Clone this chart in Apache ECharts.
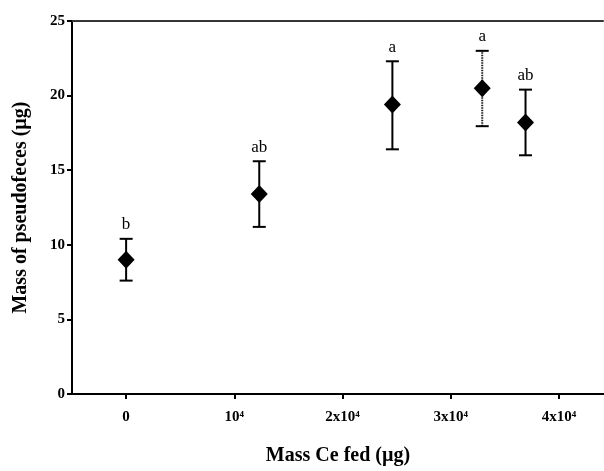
<!DOCTYPE html>
<html>
<head>
<meta charset="utf-8">
<script src="https://cdn.jsdelivr.net/npm/echarts@6/dist/echarts.min.js"></script>
<style>html,body{margin:0;padding:0;background:#fff}#c{width:604px;height:471px}</style>
</head>
<body>
<div id="c"></div>
<script>
var xVals = [0, 12300, 24600, 32900, 36900];
var means = [9.0, 13.4, 19.4, 20.5, 18.2];
var lower = [7.6, 11.2, 16.4, 17.95, 16.0];
var upper = [10.4, 15.6, 22.3, 23.0, 20.4];
var letters = ['b', 'ab', 'a', 'a', 'ab'];
var xTickVals = [0, 10000, 20000, 30000, 40000];
var xTickLabels = ['0', '10\u2074', '2x10\u2074', '3x10\u2074', '4x10\u2074'];
var dottedBar = [false, false, false, true, false];

var FONT = '"Liberation Serif", "DejaVu Serif", serif';
var chart = echarts.init(document.getElementById('c'), null, {renderer: 'canvas'});

var errData = xVals.map(function (x, i) { return [x, lower[i], upper[i], i]; });
var ptData = xVals.map(function (x, i) { return [x, means[i]]; });

chart.setOption({
  animation: false,
  backgroundColor: '#fff',
  grid: {left: 72, right: 0, top: 21, bottom: 72, containLabel: false},
  xAxis: [{
    type: 'value', min: -5000, max: 44150,
    name: 'Mass Ce fed (\u00b5g)', nameLocation: 'middle', nameGap: 52,
    nameTextStyle: {fontFamily: FONT, fontWeight: 'bold', fontSize: 20, color: '#000'},
    axisLine: {show: true, onZero: false, lineStyle: {color: '#000', width: 2}},
    axisTick: {show: true, length: 5, lineStyle: {color: '#000', width: 2}, customValues: xTickVals},
    axisLabel: {
      customValues: xTickVals, margin: 16,
      fontFamily: FONT, fontWeight: 'bold', fontSize: 15, color: '#000',
      formatter: function (v) { var k = xTickVals.indexOf(v); return k >= 0 ? xTickLabels[k] : ''; }
    },
    splitLine: {show: false}
  }, {
    type: 'value', position: 'top', min: -5000, max: 44150,
    axisLine: {show: true, onZero: false, lineStyle: {color: '#333', width: 2, type: [1, 1]}},
    axisTick: {show: false}, axisLabel: {show: false}, splitLine: {show: false}
  }],
  yAxis: {
    type: 'value', min: 0, max: 25, interval: 5,
    name: 'Mass of pseudofeces (\u00b5g)', nameLocation: 'middle', nameGap: 41,
    nameTextStyle: {fontFamily: FONT, fontWeight: 'bold', fontSize: 20, color: '#000'},
    axisLine: {show: true, onZero: false, lineStyle: {color: '#000', width: 2}},
    axisTick: {show: true, length: 5, lineStyle: {color: '#000', width: 2}},
    axisLabel: {margin: 7, fontFamily: FONT, fontWeight: 'bold', fontSize: 15, color: '#000'},
    splitLine: {show: false}
  },
  series: [{
    type: 'custom',
    data: errData,
    z: 2,
    renderItem: function (params, api) {
      var x = api.value(0), lo = api.value(1), hi = api.value(2), idx = api.value(3);
      var pLo = api.coord([x, lo]), pHi = api.coord([x, hi]);
      var cap = 6.5;
      var st = {stroke: '#000', lineWidth: 2};
      var vst = dottedBar[idx] ? {stroke: '#222', lineWidth: 2, lineDash: [1.5, 1]} : st;
      return {
        type: 'group',
        children: [
          {type: 'line', shape: {x1: pLo[0], y1: pLo[1], x2: pHi[0], y2: pHi[1]}, style: vst},
          {type: 'line', shape: {x1: pHi[0] - cap, y1: pHi[1], x2: pHi[0] + cap, y2: pHi[1]}, style: st},
          {type: 'line', shape: {x1: pLo[0] - cap, y1: pLo[1], x2: pLo[0] + cap, y2: pLo[1]}, style: st},
          {type: 'text', x: pHi[0], y: pHi[1] - 14,
           style: {text: letters[idx], fill: '#000', font: '17px ' + FONT, align: 'center', verticalAlign: 'middle'}}
        ]
      };
    }
  }, {
    type: 'scatter',
    data: ptData,
    symbol: 'diamond',
    symbolSize: [17, 18],
    itemStyle: {color: '#000', opacity: 1},
    z: 3
  }]
});
</script>
</body>
</html>
